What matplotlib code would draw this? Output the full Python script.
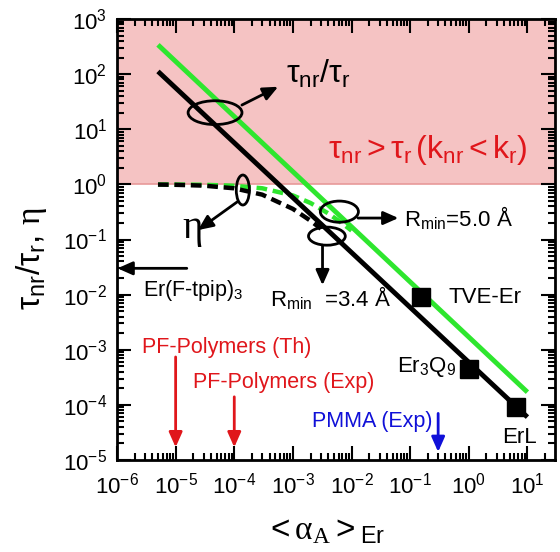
import matplotlib
matplotlib.use("Agg")
import matplotlib.pyplot as plt
from matplotlib.patches import Ellipse
from matplotlib.ticker import LogLocator, NullFormatter

plt.rcParams['font.family'] = ['Liberation Sans', 'DejaVu Sans']
plt.rcParams['mathtext.fontset'] = 'custom'
plt.rcParams['mathtext.rm'] = 'Liberation Sans'
plt.rcParams['mathtext.it'] = 'Liberation Serif'
plt.rcParams['mathtext.sf'] = 'Liberation Sans'

# ---- data ----
alpha_line = [5e-6, 10.0]
ratio_green = [340.0, 1.7e-4]      # R_min = 5.0 A
ratio_black = [112.0, 6.0e-5]      # R_min = 3.4 A

alpha_eta_black = [5e-6, 1e-5, 3e-5, 1e-4, 3e-4, 1e-3, 2e-3, 3e-3]
eta_black = [0.991, 0.982, 0.949, 0.848, 0.651, 0.359, 0.219, 0.157]
alpha_eta_green = [5e-6, 1e-5, 3e-5, 1e-4, 3e-4, 1e-3, 2e-3, 4e-3, 7e-3, 1e-2]
eta_green = [0.997, 0.994, 0.983, 0.944, 0.850, 0.630, 0.459, 0.298, 0.195, 0.145]

complex_names = ['TVE-Er', 'Er$_3$Q$_9$', 'ErL']
complex_alpha = [0.155, 1.0, 6.5]
complex_ratio = [9.0e-3, 4.5e-4, 9.0e-5]

pf_alpha = [1e-5, 1e-4]
pmma_alpha = 0.3
er_ftpip_ratio = 0.03

GREEN = '#2ee62e'
RED = '#e0161b'
BLUE = '#1010d8'
PINK = '#f5c3c3'

fig = plt.figure(figsize=(5.6, 5.52), dpi=100)
ax = fig.add_axes([117/560, 92/552, 438/560, 441/552])
ax.set_xscale('log')
ax.set_yscale('log')
ax.set_xlim(1e-6, 10**1.47)
ax.set_ylim(1e-5, 1e3)

ax.axhspan(1.0, 1e3, facecolor=PINK, edgecolor='none', zorder=0)
ax.axhline(1.0, color='#e79a9a', lw=1.2, zorder=0.5)

ax.plot(alpha_eta_green, eta_green, color=GREEN, lw=3.2, ls=(0, (2.4, 1.3)), zorder=2)
ax.plot(alpha_eta_black, eta_black, color='black', lw=3.2, ls=(0, (2.4, 1.3)), zorder=2)
ax.plot(alpha_line, ratio_green, color=GREEN, lw=3.5, solid_capstyle='butt', zorder=3)
ax.plot(alpha_line, ratio_black, color='black', lw=3.5, solid_capstyle='butt', zorder=3)
ax.plot(complex_alpha, complex_ratio, 's', color='black', ms=13, zorder=4)

ax.text(0.45, 9.0e-3, complex_names[0], fontsize=16, va='center', ha='left')
ax.text(0.06, 4.8e-4, complex_names[1], fontsize=16, va='center', ha='left')
ax.text(3.7, 2.6e-5, complex_names[2], fontsize=16, va='center', ha='left')

# helper for ellipses in axes coordinates
def ell(xd, yd, w, h):
    xa, ya = ax.transAxes.inverted().transform(ax.transData.transform((xd, yd)))
    ax.add_patch(Ellipse((xa, ya), w, h, transform=ax.transAxes, fill=False,
                         ec='black', lw=2, zorder=5))

ell(4.7e-5, 20.0, 0.123, 0.054)
ell(1.4e-4, 0.79, 0.030, 0.068)
ell(6.2e-3, 0.32, 0.087, 0.048)
ell(3.8e-3, 0.115, 0.084, 0.041)

hs = '-|>,head_length=0.9,head_width=0.4'
aprops = dict(arrowstyle=hs, color='black', lw=2, shrinkA=0, shrinkB=0)
ax.annotate('', xy=(5.6e-4, 59), xytext=(1.35e-4, 27.5), arrowprops=aprops, zorder=6)
ax.annotate('', xy=(2.4e-5, 0.148), xytext=(1.12e-4, 0.48), arrowprops=aprops, zorder=6)
ax.annotate('', xy=(0.063, 0.245), xytext=(0.0129, 0.245), arrowprops=aprops, zorder=6)
ax.annotate('', xy=(3.2e-3, 0.0148), xytext=(3.2e-3, 0.079), arrowprops=aprops, zorder=6)
ax.annotate('', xy=(1.02e-6, er_ftpip_ratio), xytext=(1.55e-5, er_ftpip_ratio),
            arrowprops=aprops, zorder=6)

rprops = dict(arrowstyle=hs, color=RED, lw=2, shrinkA=0, shrinkB=0)
ax.annotate('', xy=(pf_alpha[0], 1.7e-5), xytext=(pf_alpha[0], 7.4e-4), arrowprops=rprops)
ax.annotate('', xy=(pf_alpha[1], 1.7e-5), xytext=(pf_alpha[1], 1.4e-4), arrowprops=rprops)
bprops = dict(arrowstyle=hs, color=BLUE, lw=2, shrinkA=0, shrinkB=0)
ax.annotate('', xy=(pmma_alpha, 1.4e-5), xytext=(pmma_alpha, 7e-5), arrowprops=bprops)

ax.text(2.7e-6, 1.1e-3, 'PF-Polymers (Th)', color=RED, fontsize=15.5, va='center')
ax.text(2.0e-5, 2.5e-4, 'PF-Polymers (Exp)', color=RED, fontsize=15.5, va='center')
ax.text(2.1e-3, 4.9e-5, 'PMMA (Exp)', color=BLUE, fontsize=15.5, va='center')
ax.text(2.8e-6, 1.2e-2, r'Er(F-tpip)$_3$', fontsize=15.5, va='center')

ax.text(7.5e-4, 69, r'$\mathrm{τ_{nr}/τ_{r}}$', fontsize=23, va='baseline')
ax.text(4.0e-3, 4.2, r'$\mathrm{τ_{nr}>τ_{r}\,(k_{nr}<k_{r})}$', fontsize=23,
        color=RED, va='center')
ax.text(1.9e-5, 0.14, r'$\eta$', fontsize=28, va='center', ha='center')
ax.text(0.08, 0.245, r'$\mathrm{R_{min}}$=5.0 Å', fontsize=16, va='center')
ax.text(4.1e-4, 0.0087, r'$\mathrm{R_{min}}$  =3.4 Å', fontsize=16, va='center')

ax.set_xlabel(r'$<\alpha_{A}>_{\mathrm{Er}}$', fontsize=24)
ax.set_ylabel(r'$\mathrm{τ_{nr}/τ_{r}}$, $\eta$', fontsize=24)
ax.xaxis.set_label_coords(0.475, -0.125)
ax.yaxis.set_label_coords(-0.155, 0.456)

for a in (ax.xaxis, ax.yaxis):
    a.set_major_locator(LogLocator(base=10, numticks=20))
    a.set_minor_locator(LogLocator(base=10, subs=range(2, 10), numticks=20))
    a.set_minor_formatter(NullFormatter())
ax.tick_params(which='both', direction='in', top=True, right=True, width=1.5,
               labelsize=16)
ax.tick_params(which='major', length=10)
ax.tick_params(which='minor', length=5)
ax.tick_params(axis='x', which='major', pad=9)
ax.tick_params(axis='y', which='major', pad=7)
for s in ax.spines.values():
    s.set_linewidth(2)

fig.savefig('out.png', dpi=100)
